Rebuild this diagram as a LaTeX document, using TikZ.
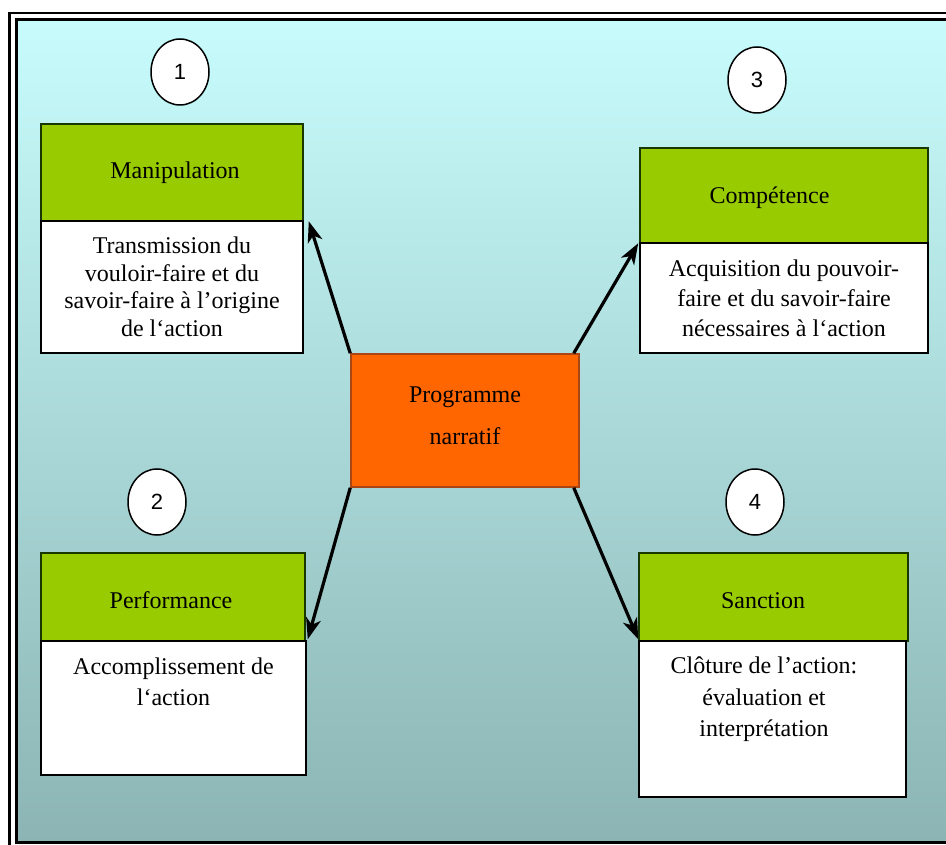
\documentclass[tikz,border=0pt]{standalone}
\usepackage{fontspec}
\setmainfont{Liberation Serif}
\newfontfamily\digitfont{Liberation Sans}
\usetikzlibrary{arrows.meta,shapes.geometric}
\definecolor{bgtop}{RGB}{200,252,252}
\definecolor{bgbot}{RGB}{140,180,180}
\definecolor{hdrgreen}{RGB}{153,204,0}
\definecolor{hdrline}{RGB}{25,55,0}
\definecolor{orng}{RGB}{255,102,0}
\definecolor{orngline}{RGB}{170,70,20}
\begin{document}
\begin{tikzpicture}[x=1pt,y=-1pt,
  hdr/.style={draw=hdrline,line width=1.5pt,fill=hdrgreen,inner sep=0pt},
  bodybox/.style={draw=black,line width=1.5pt,fill=white,inner sep=0pt},
  hdrtext/.style={inner sep=0pt,font=\fontsize{24}{29}\selectfont,text height=16pt,text depth=5pt},
  bodytext/.style={align=center,inner sep=0pt,anchor=north},
  numcirc/.style={ellipse,draw=black,line width=1.5pt,fill=white,minimum width=58pt,minimum height=66pt,inner sep=0pt,font=\digitfont\fontsize{22}{26}\selectfont},
  arr/.style={line width=3.2pt,-{Stealth[length=21pt,width=15pt,inset=6pt]}}]
\useasboundingbox (0,0) rectangle (946,845);
\clip (0,0) rectangle (946,845);
% frame
\fill[white] (0,0) rectangle (946,845);
\shade[top color=bgtop,bottom color=bgbot] (16,19.5) rectangle (960,842);
\draw[line width=2.5pt] (9.5,13) rectangle (966,852);
\draw[line width=3pt] (16,19.5) rectangle (960,842);
% boxes
\node[hdr,minimum width=262pt,minimum height=97pt] (mh) at (172,172.5) {};
\node[bodybox,minimum width=262pt,minimum height=132pt] (mb) at (172,287) {};
\node[hdr,minimum width=288pt,minimum height=95pt] (ch) at (784,195.5) {};
\node[bodybox,minimum width=288pt,minimum height=110pt] (cb) at (784,298) {};
\node[hdr,minimum width=264pt,minimum height=88pt] (ph) at (173,597) {};
\node[bodybox,minimum width=265pt,minimum height=134pt] (pb) at (173.5,708) {};
\node[hdr,minimum width=269pt,minimum height=88pt] (sh) at (773.5,597) {};
\node[bodybox,minimum width=267pt,minimum height=156pt] (sb) at (772.5,719) {};
\node[draw=orngline,line width=1.5pt,fill=orng,minimum width=228pt,minimum height=133pt,inner sep=0pt] (pn) at (465,420.5) {};
% header texts
\node[hdrtext] (mht) at (175,173) {Manipulation};
\node[hdrtext] (cht) at (769.5,198) {Compétence};
\node[hdrtext] (pht) at (171,603) {Performance};
\node[hdrtext] (sht) at (763,603) {Sanction};
% body texts
\node[bodytext,font=\fontsize{24}{27.5}\selectfont] (mbt) at (172,237) {Transmission du\\vouloir-faire et du\\savoir-faire à l’origine\\de l‘action};
\node[bodytext,font=\fontsize{24}{30}\selectfont] (cbt) at (784,260) {Acquisition du pouvoir-\\faire et du savoir-faire\\nécessaires à l‘action};
\node[bodytext,font=\fontsize{24}{31}\selectfont] (pbt) at (173.5,658) {Accomplissement de\\l‘action};
\node[bodytext,font=\fontsize{24}{31.5}\selectfont] (sbt) at (764,657) {Clôture de l’action:\\évaluation et\\interprétation};
\node[bodytext,font=\fontsize{24}{42}\selectfont] (pnt) at (465,387) {Programme\\narratif};
% numbers
\node[numcirc] (n1) at (180,72) {1};
\node[numcirc] (n3) at (757,80) {3};
\node[numcirc] (n2) at (157,502) {2};
\node[numcirc] (n4) at (755,502) {4};
% arrows
\draw[arr] (pn.north west) -- ([xshift=5pt,yshift=-1pt]mb.north east);
\draw[arr] ([xshift=-6pt]pn.north east) -- ([xshift=-1pt,yshift=-1pt]cb.north west);
\draw[arr] (pn.south west) -- ([xshift=1pt,yshift=1pt]pb.north east);
\draw[arr] ([xshift=-6pt]pn.south east) -- ([yshift=1pt]sb.north west);
\end{tikzpicture}
\end{document}
